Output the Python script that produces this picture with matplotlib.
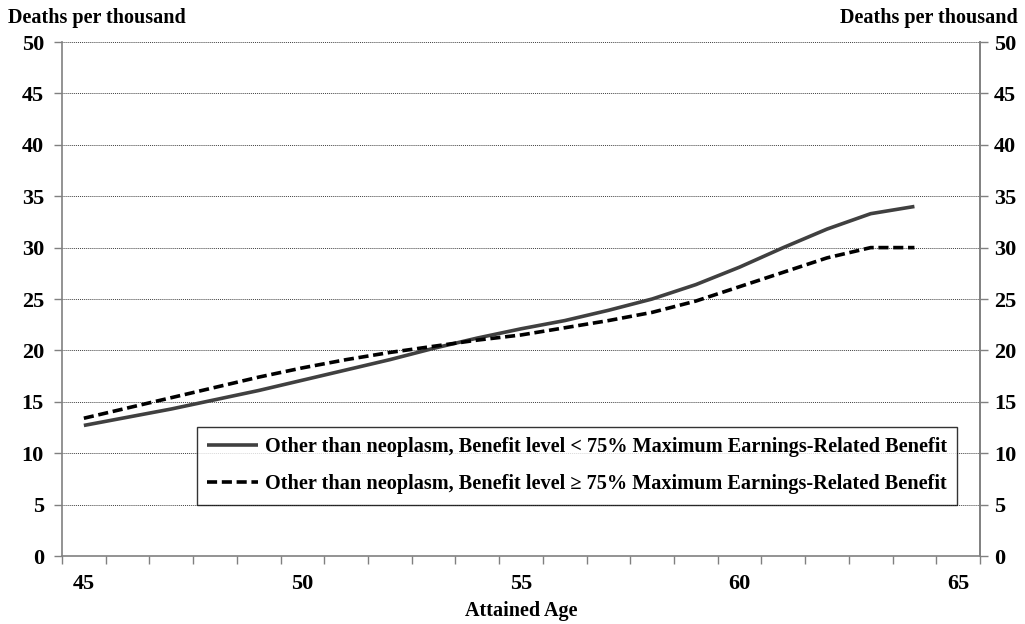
import matplotlib
matplotlib.use("Agg")
import matplotlib.pyplot as plt
from matplotlib.ticker import MultipleLocator, FixedLocator

ages = list(range(45, 65))
below_75 = [12.7, 13.5, 14.3, 15.2, 16.1, 17.1, 18.1, 19.1, 20.2, 21.2,
            22.1, 22.9, 23.9, 25.0, 26.4, 28.1, 30.0, 31.8, 33.3, 34.0]
above_75 = [13.4, 14.4, 15.4, 16.4, 17.4, 18.3, 19.1, 19.8, 20.4, 21.0,
            21.5, 22.2, 22.9, 23.7, 24.8, 26.2, 27.6, 29.0, 30.0, 30.0]
label_below = "Other than neoplasm, Benefit level < 75% Maximum Earnings-Related Benefit"
label_above = "Other than neoplasm, Benefit level \u2265 75% Maximum Earnings-Related Benefit"
x_label = "Attained Age"
y_label = "Deaths per thousand"

plt.rcParams['font.family'] = ['Liberation Serif', 'DejaVu Serif']
plt.rcParams['font.weight'] = 'bold'

fig = plt.figure(figsize=(10.25, 6.24), dpi=100)
ax = fig.add_axes([62/1025, 1-556/624, (980-62)/1025, (556-42)/624])

ax.plot(ages, below_75, color='#404040', lw=2.6, solid_capstyle='butt', label=label_below)
ax.plot(ages, above_75, color='black', lw=2.6, linestyle=(0, (2.8, 1.3)), label=label_above)

ax.set_xlim(44.5, 65.5)
ax.set_ylim(0, 50)
ax.yaxis.set_major_locator(MultipleLocator(5))
ax.xaxis.set_major_locator(FixedLocator([45, 50, 55, 60, 65]))
ax.xaxis.set_minor_locator(FixedLocator([44.5 + k for k in range(22)]))
ax.tick_params(axis='x', which='major', length=0, pad=13, labelsize=16)
ax.tick_params(axis='x', which='minor', length=6, width=1, color='#808080', direction='out')
ax.tick_params(axis='y', which='major', length=6, width=1, color='#808080', direction='out',
               labelsize=16, pad=7)

ax.grid(axis='y', color='#404040', linestyle=(0, (1, 1)), linewidth=0.7)
ax.set_axisbelow(True)
ax.spines['top'].set_visible(False)
for s in ['left', 'right', 'bottom']:
    ax.spines[s].set_color('#808080')
    ax.spines[s].set_linewidth(1.2)

ax2 = ax.twinx()
ax2.set_ylim(0, 50)
ax2.yaxis.set_major_locator(MultipleLocator(5))
ax2.tick_params(axis='y', which='major', length=6, width=1, color='#808080', direction='out',
                labelsize=16, pad=4)
for s in ['top', 'left', 'bottom']:
    ax2.spines[s].set_visible(False)
ax2.spines['right'].set_color('#808080')
ax2.spines['right'].set_linewidth(1.2)

ax.set_xlabel(x_label, fontsize=14.5, fontweight='bold', labelpad=5)
fig.text(8/1025, 1-18/624, y_label, fontsize=14.5, fontweight='bold', ha='left', va='center')
fig.text(1018/1025, 1-18/624, y_label, fontsize=14.5, fontweight='bold', ha='right', va='center')

leg = ax.legend(loc='upper left', bbox_to_anchor=((197-62)/918, (556-427)/514),
                fontsize=14.6, frameon=True, fancybox=False, edgecolor='black',
                handlelength=2.5, borderpad=0.5, labelspacing=0.85, handletextpad=0.35,
                borderaxespad=0)
leg.get_frame().set_linewidth(1.0)
for t in leg.get_texts():
    t.set_fontweight('bold')

fig.savefig("out.png", dpi=100)
